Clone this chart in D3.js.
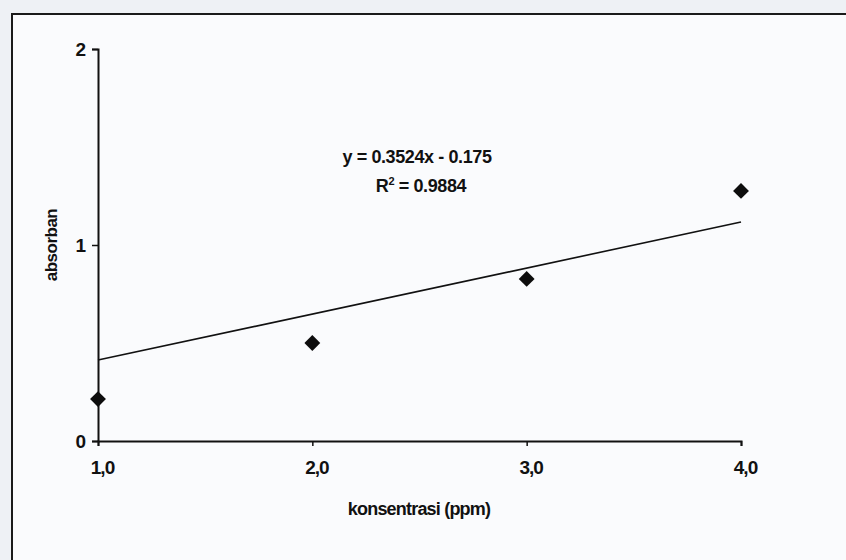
<!DOCTYPE html>
<html>
<head>
<meta charset="utf-8">
<script src="https://cdn.jsdelivr.net/npm/d3@7"></script>
<style>
  body { margin: 0; background: #eef1f5; }
  svg { display: block; }
  .tick text { font-family: "Liberation Sans", Arial, sans-serif; font-weight: bold; letter-spacing: -1px; }
</style>
</head>
<body>
<svg width="846" height="560"></svg>
<script>
// scatter data
const konsentrasi = [1, 2, 3, 4];
const absorban = [0.214, 0.5, 0.827, 1.276];
// linear trendline as drawn (end points)
const trendX = [1, 4];
const trendY = [0.413, 1.117];
const xTicks = [1, 2, 3, 4];
const xTickLabels = ["1,0", "2,0", "3,0", "4,0"];
const yTicks = [0, 1, 2];
const equation = "y = 0.3524x - 0.175";
const r2 = "0.9884";

function drawChart() {
  const svg = d3.select("svg");
  const width = +svg.attr("width");
  const height = +svg.attr("height");

  // chart area box (paper) - runs off right and bottom edges
  svg.append("rect")
    .attr("x", 12).attr("y", 14)
    .attr("width", width).attr("height", height)
    .attr("fill", "#fafbfd")
    .attr("stroke", "#1a1a1a")
    .attr("stroke-width", 2);

  const x = d3.scaleLinear().domain([1, 4]).range([98, 741]);
  const y = d3.scaleLinear().domain([0, 2]).range([441, 49]);

  // y axis
  const yAxis = svg.append("g")
    .attr("transform", `translate(${x(1)},0)`)
    .call(d3.axisLeft(y).tickValues(yTicks).tickSize(6).tickFormat(d3.format("d")));
  yAxis.select(".domain").attr("stroke", "#111").attr("stroke-width", 2);
  yAxis.selectAll(".tick line").attr("stroke", "#111").attr("stroke-width", 1.5);
  yAxis.selectAll(".tick text").attr("font-size", 19).attr("x", -13).attr("fill", "#111");

  // x axis
  const xAxis = svg.append("g")
    .attr("transform", `translate(0,${y(0)})`)
    .call(d3.axisBottom(x).tickValues(xTicks).tickSize(5)
      .tickFormat((d, i) => xTickLabels[i]));
  xAxis.select(".domain").attr("stroke", "#111").attr("stroke-width", 2);
  xAxis.selectAll(".tick line").attr("stroke", "#111").attr("stroke-width", 1.5);
  xAxis.selectAll(".tick text").attr("font-size", 19).attr("y", 20).attr("dx", 4).attr("fill", "#111");

  // trendline
  svg.append("path")
    .datum(trendX.map((d, i) => [d, trendY[i]]))
    .attr("d", d3.line().x(d => x(d[0])).y(d => y(d[1])))
    .attr("fill", "none")
    .attr("stroke", "#111")
    .attr("stroke-width", 1.6);

  // diamond markers
  svg.selectAll(".pt")
    .data(konsentrasi)
    .enter()
    .append("path")
    .attr("class", "pt")
    .attr("transform", (d, i) => `translate(${x(d)},${y(absorban[i])})`)
    .attr("d", d3.symbol().type(d3.symbolDiamond2).size(160))
    .attr("fill", "#0d0d0d");

  // equation labels
  svg.append("text")
    .attr("x", 417).attr("y", 163)
    .attr("text-anchor", "middle")
    .attr("font-family", "Liberation Sans, Arial, sans-serif")
    .attr("font-weight", "bold")
    .attr("font-size", 18)
    .attr("letter-spacing", -0.4)
    .attr("fill", "#111")
    .text(equation);

  const r = svg.append("text")
    .attr("x", 421).attr("y", 192)
    .attr("text-anchor", "middle")
    .attr("font-family", "Liberation Sans, Arial, sans-serif")
    .attr("font-weight", "bold")
    .attr("font-size", 18)
    .attr("letter-spacing", -0.4)
    .attr("fill", "#111");
  r.append("tspan").text("R");
  r.append("tspan").attr("font-size", 11).attr("dy", -7).text("2");
  r.append("tspan").attr("dy", 7).text(" = " + r2);

  // axis titles
  svg.append("text")
    .attr("x", 419).attr("y", 515)
    .attr("text-anchor", "middle")
    .attr("font-family", "Liberation Sans, Arial, sans-serif")
    .attr("font-weight", "bold")
    .attr("font-size", 18)
    .attr("letter-spacing", -0.8)
    .attr("fill", "#111")
    .text("konsentrasi (ppm)");

  svg.append("text")
    .attr("transform", "translate(57,245) rotate(-90)")
    .attr("text-anchor", "middle")
    .attr("font-family", "Liberation Sans, Arial, sans-serif")
    .attr("font-weight", "bold")
    .attr("font-size", 17)
    .attr("letter-spacing", -0.5)
    .attr("fill", "#111")
    .text("absorban");
}

drawChart();
</script>
</body>
</html>
